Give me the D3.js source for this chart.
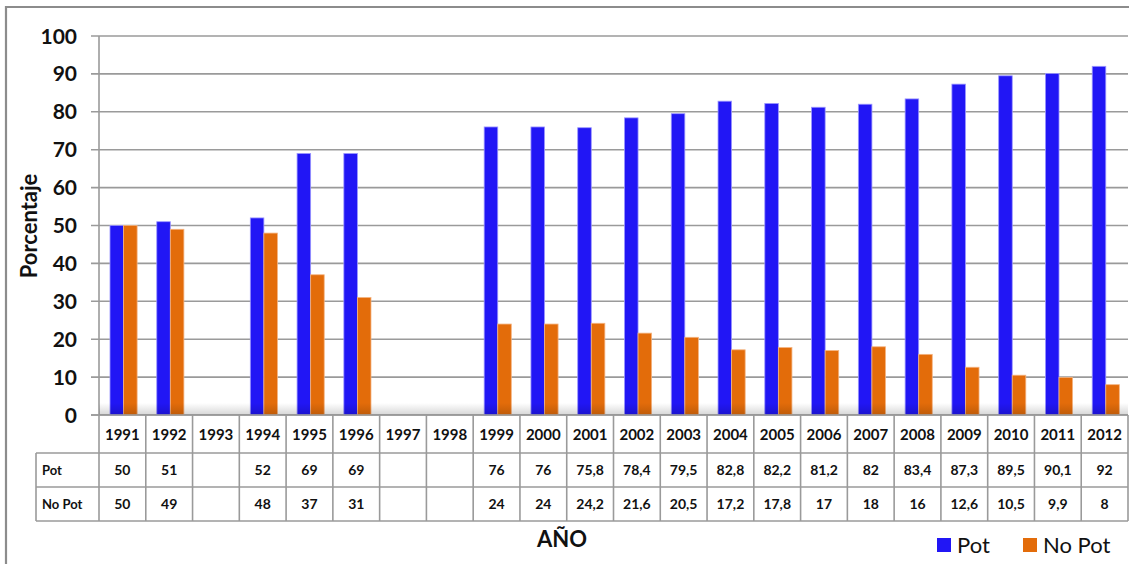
<!DOCTYPE html>
<html>
<head>
<meta charset="utf-8">
<script src="https://cdn.jsdelivr.net/npm/d3@7"></script>
<style>
  html, body { margin: 0; padding: 0; background: #fff; }
  svg { display: block; font-family: Lato, "Open Sans", sans-serif; }
</style>
</head>
<body>
<svg id="chart" width="1129" height="564"></svg>
<script>
// Años de la serie
const years = ["1991","1992","1993","1994","1995","1996","1997","1998","1999","2000","2001",
               "2002","2003","2004","2005","2006","2007","2008","2009","2010","2011","2012"];
// Porcentaje "Pot" por año (null = sin dato)
const pot = [50, 51, null, 52, 69, 69, null, null, 76, 76, 75.8,
             78.4, 79.5, 82.8, 82.2, 81.2, 82, 83.4, 87.3, 89.5, 90.1, 92];
// Porcentaje "No Pot" por año
const noPot = [50, 49, null, 48, 37, 31, null, null, 24, 24, 24.2,
               21.6, 20.5, 17.2, 17.8, 17, 18, 16, 12.6, 10.5, 9.9, 8];
const seriesNames = ["Pot", "No Pot"];
const seriesColors = ["#2116F5", "#E36C0A"];
const yTicks = [0, 10, 20, 30, 40, 50, 60, 70, 80, 90, 100];

const svg = d3.select("#chart");
const plotL = 99, plotR = 1128, plotT = 36, plotB = 415;
const gridColor = "#9a9a9a";

// Outer frame (top and left edges visible)
svg.append("path")
  .attr("d", "M6,564 L6,7 L1129,7")
  .attr("fill", "none").attr("stroke", "#8c8c8c").attr("stroke-width", 2.2);

const x = d3.scaleBand().domain(years).range([plotL, plotR]).padding(0);
const bw = x.bandwidth();
const x1 = d3.scaleBand().domain(seriesNames).range([bw * 0.235, bw * 0.815]).padding(0);
const y = d3.scaleLinear().domain([0, 100]).range([plotB, plotT]);

// Gridlines + tick marks
svg.append("g").selectAll("line").data(yTicks).join("line")
  .attr("x1", plotL - 8).attr("x2", plotR)
  .attr("y1", d => y(d)).attr("y2", d => y(d))
  .attr("stroke", gridColor).attr("stroke-width", 1.6);

// Y axis line
svg.append("line").attr("x1", plotL).attr("x2", plotL).attr("y1", plotT).attr("y2", plotB)
  .attr("stroke", gridColor).attr("stroke-width", 1.6);

// Y tick labels
svg.append("g").selectAll("text").data(yTicks).join("text")
  .attr("x", 77).attr("y", d => y(d)).attr("dy", "0.36em")
  .attr("text-anchor", "end").attr("font-size", 21).attr("font-weight", 700)
  .attr("fill", "#111").text(d => d);

// Y axis title
svg.append("text")
  .attr("transform", "translate(29,226) rotate(-90)")
  .attr("dy", "0.36em")
  .attr("text-anchor", "middle").attr("font-size", 22).attr("font-weight", 700)
  .attr("fill", "#111").text("Porcentaje");

// Bars
const groups = svg.append("g").selectAll("g").data(years).join("g")
  .attr("transform", d => `translate(${x(d)},0)`);
[pot, noPot].forEach((vals, si) => {
  groups.filter((d, i) => vals[i] != null)
    .append("rect")
    .attr("x", x1(seriesNames[si]))
    .attr("width", x1.bandwidth())
    .attr("y", d => y(vals[years.indexOf(d)]))
    .attr("height", d => plotB - y(vals[years.indexOf(d)]))
    .attr("fill", seriesColors[si])
    .attr("stroke", si === 0 ? "#9b96ff" : "#f4b380")
    .attr("stroke-width", 0.8);
});

// Soft floor shadow along the base of the plot
const defs = svg.append("defs");
const grad = defs.append("linearGradient").attr("id", "floorShade")
  .attr("x1", 0).attr("y1", 0).attr("x2", 0).attr("y2", 1);
grad.append("stop").attr("offset", "0%").attr("stop-color", "#000").attr("stop-opacity", 0);
grad.append("stop").attr("offset", "100%").attr("stop-color", "#000").attr("stop-opacity", 0.16);
svg.append("rect").attr("x", plotL).attr("y", plotB - 12).attr("width", plotR - plotL).attr("height", 12)
  .attr("fill", "url(#floorShade)");

// Data table beneath the axis
const rowH = [[415, 453], [453, 487], [487, 521]];
const tbl = svg.append("g").attr("stroke", gridColor).attr("stroke-width", 1.6);
tbl.append("line").attr("x1", plotL - 8).attr("x2", plotR).attr("y1", 415).attr("y2", 415);
[453, 487, 521].forEach(yy =>
  tbl.append("line").attr("x1", 36).attr("x2", plotR).attr("y1", yy).attr("y2", yy));
tbl.append("line").attr("x1", 36).attr("x2", 36).attr("y1", 453).attr("y2", 521);
tbl.selectAll("line.col").data(years.concat(["end"])).join("line")
  .attr("class", "col")
  .attr("x1", d => d === "end" ? plotR : x(d))
  .attr("x2", d => d === "end" ? plotR : x(d))
  .attr("y1", 415).attr("y2", 521);

const fmt = v => v == null ? "" : String(v).replace(".", ",");

// Year headers
svg.append("g").selectAll("text").data(years).join("text")
  .attr("x", d => x(d) + bw / 2).attr("y", 435).attr("dy", "0.36em")
  .attr("text-anchor", "middle").attr("font-size", 15).attr("font-weight", 700)
  .attr("fill", "#111").text(d => d);

// Value rows
[pot, noPot].forEach((vals, si) => {
  const cy = (rowH[si + 1][0] + rowH[si + 1][1]) / 2;
  svg.append("text").attr("x", 42).attr("y", cy).attr("dy", "0.36em")
    .attr("font-size", 13).attr("font-weight", 700).attr("fill", "#111")
    .text(seriesNames[si]);
  svg.append("g").selectAll("text").data(years).join("text")
    .attr("x", d => x(d) + bw / 2).attr("y", cy).attr("dy", "0.36em")
    .attr("text-anchor", "middle").attr("font-size", 14).attr("font-weight", 700)
    .attr("fill", "#111").text((d, i) => fmt(vals[i]));
});

// X axis title
svg.append("text").attr("x", 562).attr("y", 539).attr("dy", "0.36em")
  .attr("text-anchor", "middle").attr("font-size", 22).attr("font-weight", 700)
  .attr("fill", "#111").text("AÑO");

// Legend
const legendX = [937, 1023];
seriesNames.forEach((name, i) => {
  svg.append("rect").attr("x", legendX[i]).attr("y", 538).attr("width", 14).attr("height", 14)
    .attr("fill", seriesColors[i]);
  svg.append("text").attr("x", legendX[i] + 20).attr("y", 545).attr("dy", "0.36em")
    .attr("font-size", 22).attr("fill", "#111").text(name);
});
</script>
</body>
</html>
